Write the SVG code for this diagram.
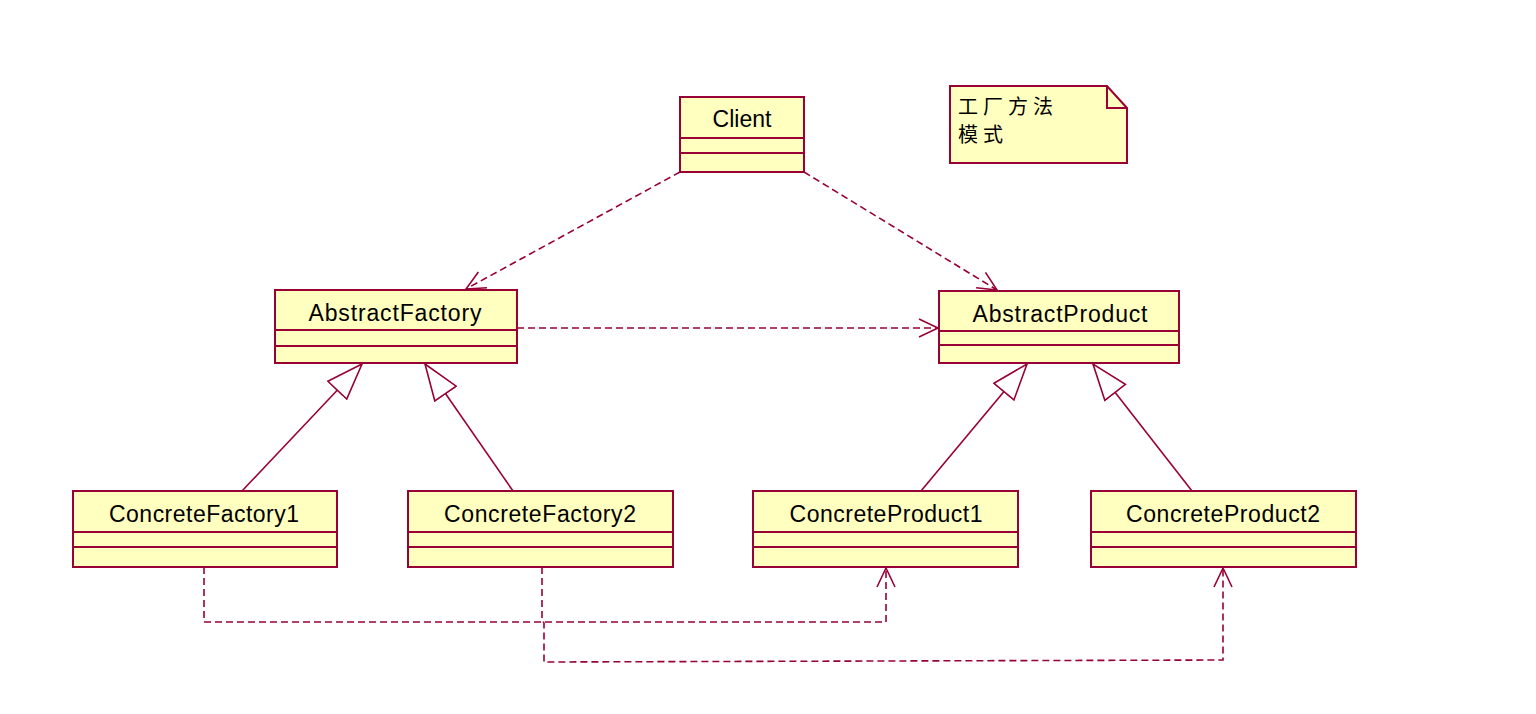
<svg xmlns="http://www.w3.org/2000/svg" width="1536" height="714" viewBox="0 0 1536 714">
<style>
.box{fill:#ffffc0;stroke:#990033;stroke-width:2}
.sep{stroke:#990033;stroke-width:2}
.lbl{font-family:"Liberation Sans",Arial,sans-serif;font-size:23px;fill:#000;text-anchor:middle}
.cjk{font-family:"Noto Sans CJK SC",sans-serif;font-size:20px;fill:#000;letter-spacing:5px}
.dep{fill:none;stroke:#990033;stroke-width:1.6;stroke-dasharray:7 4}
.gen{fill:none;stroke:#990033;stroke-width:1.6}
</style>
<defs>
<marker id="open" markerUnits="userSpaceOnUse" markerWidth="24" markerHeight="22" viewBox="0 0 24 22" refX="20" refY="10" orient="auto">
<path d="M1,1 L20,10 L1,19" fill="none" stroke="#990033" stroke-width="1.6"/>
</marker>
<marker id="tri" markerUnits="userSpaceOnUse" markerWidth="40" markerHeight="32" viewBox="0 0 40 32" refX="37" refY="15" orient="auto">
<path d="M1,2 L37,15 L1,28 Z" fill="#fff" stroke="#990033" stroke-width="1.6"/>
</marker>
</defs>
<rect width="1536" height="714" fill="#fff"/>
<g id="connectors">
<line class="dep" x1="680" y1="172" x2="466" y2="289" marker-end="url(#open)"/>
<line class="dep" x1="804" y1="172" x2="997" y2="290" marker-end="url(#open)"/>
<line class="dep" x1="517" y1="328" x2="938" y2="328" marker-end="url(#open)"/>
<line class="gen" x1="242" y1="491" x2="362" y2="364" marker-end="url(#tri)"/>
<line class="gen" x1="513" y1="491" x2="425" y2="364" marker-end="url(#tri)"/>
<line class="gen" x1="921" y1="491" x2="1027" y2="364" marker-end="url(#tri)"/>
<line class="gen" x1="1192" y1="491" x2="1093" y2="364" marker-end="url(#tri)"/>
<polyline class="dep" points="204,567 204,622 886,622 886,568" marker-end="url(#open)"/>
<polyline class="dep" points="542,567 542,620 544,623 544,662 1223,660 1223,568" marker-end="url(#open)"/>
</g>
<g id="client">
<rect class="box" x="680" y="97" width="124" height="75"/>
<line class="sep" x1="680" y1="138" x2="804" y2="138"/>
<line class="sep" x1="680" y1="153" x2="804" y2="153"/>
<text class="lbl" x="742" y="127" textLength="59" lengthAdjust="spacing">Client</text>
</g>
<g id="note">
<path d="M950,86 L1107,86 L1127,108 L1127,163 L950,163 Z" fill="#ffffc0" stroke="#990033" stroke-width="2"/>
<path d="M1107,86 L1107,108 L1127,108" fill="none" stroke="#990033" stroke-width="2"/>
<text class="cjk" x="958" y="114">工厂方法</text>
<text class="cjk" x="958" y="142">模式</text>
</g>
<g id="abstractFactory">
<rect class="box" x="275" y="290" width="242" height="73"/>
<line class="sep" x1="275" y1="330" x2="517" y2="330"/>
<line class="sep" x1="275" y1="346" x2="517" y2="346"/>
<text class="lbl" x="395" y="321" textLength="173" lengthAdjust="spacing">AbstractFactory</text>
</g>
<g id="abstractProduct">
<rect class="box" x="939" y="291" width="240" height="72"/>
<line class="sep" x1="939" y1="331" x2="1179" y2="331"/>
<line class="sep" x1="939" y1="345" x2="1179" y2="345"/>
<text class="lbl" x="1060" y="322" textLength="175" lengthAdjust="spacing">AbstractProduct</text>
</g>
<g id="concreteFactory1">
<rect class="box" x="73" y="491" width="264" height="76"/>
<line class="sep" x1="73" y1="532" x2="337" y2="532"/>
<line class="sep" x1="73" y1="547" x2="337" y2="547"/>
<text class="lbl" x="204" y="522" textLength="190" lengthAdjust="spacing">ConcreteFactory1</text>
</g>
<g id="concreteFactory2">
<rect class="box" x="408" y="491" width="265" height="76"/>
<line class="sep" x1="408" y1="532" x2="673" y2="532"/>
<line class="sep" x1="408" y1="547" x2="673" y2="547"/>
<text class="lbl" x="540" y="522" textLength="192" lengthAdjust="spacing">ConcreteFactory2</text>
</g>
<g id="concreteProduct1">
<rect class="box" x="753" y="491" width="265" height="76"/>
<line class="sep" x1="753" y1="532" x2="1018" y2="532"/>
<line class="sep" x1="753" y1="547" x2="1018" y2="547"/>
<text class="lbl" x="886" y="522" textLength="193" lengthAdjust="spacing">ConcreteProduct1</text>
</g>
<g id="concreteProduct2">
<rect class="box" x="1091" y="491" width="265" height="76"/>
<line class="sep" x1="1091" y1="532" x2="1356" y2="532"/>
<line class="sep" x1="1091" y1="547" x2="1356" y2="547"/>
<text class="lbl" x="1223" y="522" textLength="194" lengthAdjust="spacing">ConcreteProduct2</text>
</g>
</svg>
